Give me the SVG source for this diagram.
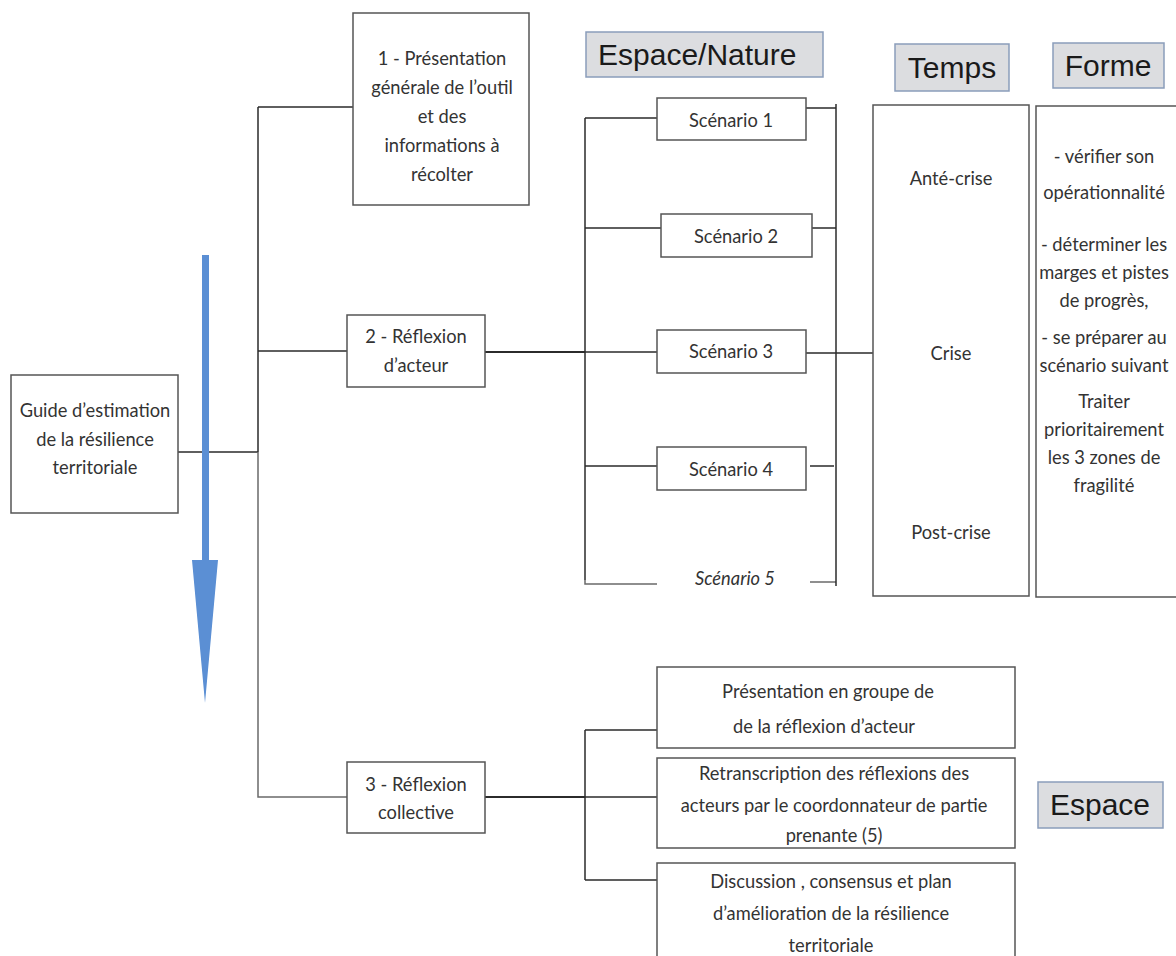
<svg xmlns="http://www.w3.org/2000/svg" width="1176" height="956" viewBox="0 0 1176 956">
  <style>
    .box { fill: #ffffff; stroke: #555555; stroke-width: 1.5; }
    .tag { fill: #dcdde0; stroke: #8a9dbb; stroke-width: 1.5; }
    .t { font-family: Lato, "Open Sans", sans-serif; font-size: 18.3px; fill: #333333; text-anchor: middle; }
    .ti { font-style: italic; }
    .h { font-family: "Liberation Sans", Arial, sans-serif; font-size: 30px; fill: #1a1a1a; }
    .ln { stroke: #2b2b2b; stroke-width: 1.5; fill: none; }
    .lg { stroke: #6a6a6a; stroke-width: 1.5; fill: none; }
    .thick { stroke: #2b2b2b; stroke-width: 2.2; fill: none; }
  </style>

  <!-- connectors -->
  <g id="connectors">
    <path class="ln" d="M178 452 H258 M258 107 V452 M258 107 H353 M258 351 H347"/>
    <path class="lg" d="M258 452 V797 H347"/>
    <path class="thick" d="M485 352 H585"/>
    <path class="ln" d="M585 118 V580 M585 118 H657 M585 228 H661 M585 352 H657 M585 466 H657"/>
    <path class="lg" d="M585 580 V584 H657"/>
    <path class="ln" d="M806 108 H836 M812 228 H836 M806 353 H873 M810 466 H834"/>
    <path class="lg" d="M810 582 H836"/>
    <path class="ln" d="M836 104 V586"/>
    <path class="thick" d="M485 797 H585"/>
    <path class="ln" d="M585 730 V880 M585 730 H657 M585 797 H657 M585 880 H657"/>
  </g>

  <!-- direction arrow -->
  <g id="flow-arrow">
    <rect x="202" y="255" width="7" height="306" fill="#5b8fd4"/>
    <polygon points="192,560 218,560 205,703" fill="#5b8fd4"/>
  </g>

  <g id="guide">
    <rect class="box" x="11" y="375" width="167" height="138"/>
    <text class="t" x="95" y="417">Guide d’estimation</text>
    <text class="t" x="95" y="446">de la résilience</text>
    <text class="t" x="95" y="474">territoriale</text>
  </g>

  <g id="step1">
    <rect class="box" x="353" y="13" width="176" height="192"/>
    <text class="t" x="442" y="65">1 - Présentation</text>
    <text class="t" x="442" y="94">générale de l’outil</text>
    <text class="t" x="442" y="123">et des</text>
    <text class="t" x="442" y="152">informations à</text>
    <text class="t" x="442" y="181">récolter</text>
  </g>

  <g id="step2">
    <rect class="box" x="347" y="315" width="138" height="72"/>
    <text class="t" x="416" y="343">2 - Réflexion</text>
    <text class="t" x="416" y="372">d’acteur</text>
  </g>

  <g id="step3">
    <rect class="box" x="347" y="762" width="138" height="71"/>
    <text class="t" x="416" y="791">3 - Réflexion</text>
    <text class="t" x="416" y="819">collective</text>
  </g>

  <g id="tag-espace-nature">
    <rect class="tag" x="586" y="32" width="237" height="45"/>
    <text class="h" x="598" y="65">Espace/Nature</text>
  </g>
  <g id="tag-temps">
    <rect class="tag" x="895" y="44" width="114" height="47"/>
    <text class="h" x="952" y="78" text-anchor="middle">Temps</text>
  </g>
  <g id="tag-forme">
    <rect class="tag" x="1053" y="43" width="111" height="45"/>
    <text class="h" x="1108" y="76" text-anchor="middle">Forme</text>
  </g>
  <g id="tag-espace">
    <rect class="tag" x="1038" y="782" width="125" height="46"/>
    <text class="h" x="1100" y="815" text-anchor="middle">Espace</text>
  </g>

  <g id="scenario1">
    <rect class="box" x="657" y="98" width="149" height="42"/>
    <text class="t" x="731" y="127">Scénario 1</text>
  </g>
  <g id="scenario2">
    <rect class="box" x="661" y="214" width="151" height="43"/>
    <text class="t" x="736" y="243">Scénario 2</text>
  </g>
  <g id="scenario3">
    <rect class="box" x="657" y="330" width="149" height="43"/>
    <text class="t" x="731" y="358">Scénario 3</text>
  </g>
  <g id="scenario4">
    <rect class="box" x="657" y="447" width="149" height="43"/>
    <text class="t" x="731" y="476">Scénario 4</text>
  </g>
  <g id="scenario5">
    <text class="t ti" x="735" y="585">Scénario 5</text>
  </g>

  <g id="temps">
    <rect class="box" x="873" y="105" width="156" height="491"/>
    <text class="t" x="951" y="185">Anté-crise</text>
    <text class="t" x="951" y="360">Crise</text>
    <text class="t" x="951" y="539">Post-crise</text>
  </g>

  <g id="forme">
    <rect class="box" x="1036" y="106" width="150" height="491"/>
    <text class="t" x="1104" y="163">- vérifier son</text>
    <text class="t" x="1104" y="199">opérationnalité</text>
    <text class="t" x="1104" y="251">- déterminer les</text>
    <text class="t" x="1104" y="279">marges et pistes</text>
    <text class="t" x="1104" y="307">de progrès,</text>
    <text class="t" x="1104" y="344">- se préparer au</text>
    <text class="t" x="1104" y="372">scénario suivant</text>
    <text class="t" x="1104" y="408">Traiter</text>
    <text class="t" x="1104" y="436">prioritairement</text>
    <text class="t" x="1104" y="464">les 3 zones de</text>
    <text class="t" x="1104" y="492">fragilité</text>
  </g>

  <g id="collective-a">
    <rect class="box" x="657" y="667" width="358" height="81"/>
    <text class="t" x="828" y="698">Présentation en groupe de</text>
    <text class="t" x="824" y="733">de la réflexion d’acteur</text>
  </g>
  <g id="collective-b">
    <rect class="box" x="657" y="758" width="358" height="90"/>
    <text class="t" x="834" y="780">Retranscription des réflexions des</text>
    <text class="t" x="834" y="812">acteurs par le coordonnateur de partie</text>
    <text class="t" x="834" y="842">prenante (5)</text>
  </g>
  <g id="collective-c">
    <rect class="box" x="657" y="863" width="358" height="100"/>
    <text class="t" x="831" y="888">Discussion , consensus et plan</text>
    <text class="t" x="831" y="920">d’amélioration de la résilience</text>
    <text class="t" x="831" y="952">territoriale</text>
  </g>
</svg>
